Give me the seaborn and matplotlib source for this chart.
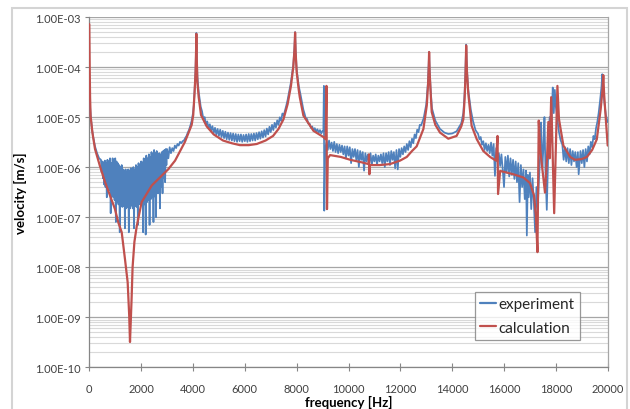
import numpy as np
import pandas as pd
import matplotlib
matplotlib.use("Agg")
import matplotlib.pyplot as plt
from matplotlib.ticker import LogLocator, FuncFormatter, FixedLocator, NullFormatter
from matplotlib.patches import Rectangle
import seaborn as sns

# ---------------- data ----------------
series_names = ["experiment", "calculation"]
x_ticks = [0, 2000, 4000, 6000, 8000, 10000, 12000, 14000, 16000, 18000, 20000]
y_ticks = [1e-10, 1e-9, 1e-8, 1e-7, 1e-6, 1e-5, 1e-4, 1e-3]

calc_f = [0, 15, 30, 50, 120, 220, 410, 610, 800, 990, 1120, 1250, 1380, 1480, 1540,
          1570, 1630, 1670, 1740, 1830, 2020, 2410, 3040, 3310, 3690, 3950, 4010, 4060,
          4100, 4120, 4130, 4145, 4170, 4220, 4310, 4530, 4800, 5160, 5500, 5810, 6150,
          6460, 6800, 7090, 7300, 7490, 7650, 7780, 7870, 7915, 7940, 7960, 8000, 8080,
          8120, 8260, 8650, 9030, 9120, 9150, 9170, 9200, 9290, 9700, 10070, 10500,
          10770, 10790, 10805, 10830, 11200, 11600, 11990, 12250, 12450, 12630, 12890,
          13020, 13070, 13095, 13110, 13130, 13170, 13210, 13350, 13530, 13850, 14170,
          14350, 14430, 14480, 14515, 14540, 14570, 14620, 14750, 14950, 15200, 15460,
          15690, 15750, 15770, 15850, 16360, 16750, 17000, 17160, 17230, 17290, 17340,
          17400, 17450, 17520, 17580, 17660, 17710, 17760, 17820, 17935, 18060, 18120,
          18290, 18550, 18740, 19000, 19200, 19400, 19580, 19730, 19800, 19830, 19860,
          19900, 20000]
calc_v = [7.2e-4, 1e-4, 2.5e-5, 1.05e-5, 4.9e-6, 2.3e-6, 1.05e-6, 5e-7, 2.7e-7, 1.45e-7,
          7.8e-8, 5e-8, 1.4e-8, 5e-9, 1.07e-9, 3.2e-10, 2.2e-9, 1e-8, 3.2e-8, 6.6e-8,
          2e-7, 4.3e-7, 9e-7, 1.35e-6, 3.2e-6, 7e-6, 1.1e-5, 3e-5, 8e-5, 2.2e-4, 4.6e-4,
          1.6e-4, 5e-5, 2.5e-5, 1.1e-5, 6.5e-6, 4.5e-6, 3.4e-6, 3e-6, 2.75e-6, 2.75e-6,
          2.9e-6, 3.4e-6, 4.2e-6, 5.8e-6, 9e-6, 1.8e-5, 4.2e-5, 1e-4, 2.2e-4, 4.9e-4,
          2e-4, 8e-5, 3.5e-5, 2.5e-5, 1.07e-5, 5.3e-6, 4e-6, 3.6e-6, 4.2e-5, 1.45e-7,
          1.5e-6, 1.74e-6, 1.6e-6, 1.4e-6, 1.25e-6, 1.15e-6, 1.8e-6, 7.2e-7, 1.1e-6,
          1.1e-6, 1.15e-6, 1.35e-6, 1.6e-6, 2.1e-6, 2.6e-6, 5.8e-6, 1.7e-5, 4.5e-5,
          1e-4, 2e-4, 8e-5, 3e-5, 1.26e-5, 7e-6, 4.9e-6, 3.7e-6, 4.2e-6, 6.5e-6, 9e-6,
          2.3e-5, 7e-5, 2.7e-4, 8e-5, 3e-5, 6.7e-6, 3.6e-6, 2.1e-6, 1.6e-6, 1.35e-6,
          4.2e-6, 2.9e-7, 8.4e-7, 7.2e-7, 6.2e-7, 4.8e-7, 2.7e-7, 1.07e-7, 2e-8, 8.5e-6,
          2.2e-6, 1.24e-6, 6e-7, 3.1e-7, 1.5e-6, 8e-6, 1.5e-6, 2.5e-5, 1.2e-7, 4.2e-5,
          9.1e-6, 2.7e-6, 1.6e-6, 1.4e-6, 1.45e-6, 1.6e-6, 2.2e-6, 3.6e-6, 1.45e-5,
          3.5e-5, 6.9e-5, 3e-5, 1.45e-5, 2.7e-6]

# experiment: low-frequency start
exp_f0 = [0, 30, 60, 100, 150, 220, 300, 380]
exp_v0 = [2.6e-5, 1.6e-5, 1e-5, 6e-6, 4e-6, 2.6e-6, 1.9e-6, 1.5e-6]

# experiment: noisy band 450..3000 Hz (25 Hz bins)
exp_f1 = list(range(450, 3025, 25))
exp_v1 = [1.4e-6, 8e-7, 1.3e-6, 6e-7, 1.25e-6, 4.5e-7, 1.35e-6, 4e-7, 1.2e-6, 2.5e-7,
          1.4e-6, 4e-7, 1.3e-6, 3.5e-7, 1.5e-6, 1.2e-7, 1.2e-6, 3e-7, 1.5e-6, 2.5e-7,
          1.4e-6, 2.2e-7, 1.5e-6, 8e-8, 1.3e-6, 2e-7, 1.2e-6, 1.8e-7, 1.1e-6, 5e-8,
          1.0e-6, 1.8e-7, 1.1e-6, 1.6e-7, 9e-7, 1.7e-7, 8.5e-7, 6e-8, 9e-7, 1.5e-7,
          8e-7, 1.6e-7, 9e-7, 5e-8, 8.5e-7, 1.5e-7, 9.5e-7, 1.7e-7, 8e-7, 1.5e-7,
          1e-6, 6e-8, 9e-7, 1.7e-7, 1.1e-6, 1.6e-7, 1.0e-6, 7e-8, 1.2e-6, 1.8e-7,
          1.1e-6, 1.8e-7, 1.3e-6, 2e-7, 1.25e-6, 5e-8, 1.5e-6, 1.8e-7, 1.4e-6, 4.5e-8,
          1.7e-6, 2e-7, 1.5e-6, 2.2e-7, 1.8e-6, 7e-8, 1.6e-6, 2.3e-7, 2e-6, 2.5e-7,
          1.8e-6, 8e-8, 2.2e-6, 2.6e-7, 1.9e-6, 1e-7, 2.1e-6, 3e-7, 1.8e-6, 3e-7,
          1.9e-6, 1.5e-7, 1.8e-6, 4e-7, 2e-6, 3e-7, 2.1e-6, 6e-7, 2.2e-6, 5e-7,
          2.3e-6, 1.1e-6, 2.3e-6]

# experiment: rise to the 4.1 kHz resonance
exp_f2 = [3050, 3100, 3150, 3200, 3250, 3300, 3350, 3400, 3450, 3500, 3550, 3600, 3650,
          3700, 3750, 3800, 3850, 3900, 3950, 4000, 4030, 4060, 4100, 4120, 4130, 4145,
          4170, 4220, 4300]
exp_v2 = [1.5e-6, 2.5e-6, 1.9e-6, 2.4e-6, 2.1e-6, 2.7e-6, 2.4e-6, 2.9e-6, 2.7e-6, 3.2e-6,
          3.0e-6, 3.3e-6, 3.4e-6, 3.8e-6, 4.2e-6, 4.9e-6, 5.6e-6, 6.8e-6, 8.5e-6, 1.2e-5,
          1.7e-5, 3.2e-5, 9e-5, 2.5e-4, 4.8e-4, 1.8e-4, 6.5e-5, 3.2e-5, 1.6e-5]

# experiment: band 4350..7500 Hz (50 Hz bins)
exp_f3 = list(range(4350, 7550, 50))
exp_v3 = [1.3e-5, 9.2e-6, 1.0e-5, 7.1e-6, 8.2e-6, 6.0e-6, 7.2e-6, 5.4e-6, 6.6e-6, 4.8e-6,
          6.1e-6, 4.5e-6, 5.8e-6, 4.2e-6, 5.6e-6, 4.0e-6, 5.3e-6, 3.8e-6, 5.1e-6, 3.6e-6,
          4.9e-6, 3.5e-6, 4.8e-6, 3.4e-6, 4.7e-6, 3.3e-6, 4.6e-6, 3.2e-6, 4.5e-6, 3.3e-6,
          4.5e-6, 3.2e-6, 4.4e-6, 3.3e-6, 4.5e-6, 3.2e-6, 4.6e-6, 3.3e-6, 4.6e-6, 3.4e-6,
          4.7e-6, 3.4e-6, 4.8e-6, 3.6e-6, 5.0e-6, 3.7e-6, 5.2e-6, 3.9e-6, 5.5e-6, 4.1e-6,
          5.9e-6, 4.5e-6, 6.4e-6, 5.0e-6, 7.0e-6, 5.5e-6, 7.7e-6, 6.2e-6, 8.6e-6, 7.0e-6,
          9.9e-6, 8.4e-6, 1.18e-5, 1.08e-5]

# experiment: 7.9 kHz resonance and the 9.05 kHz spike
exp_f4 = [7600, 7650, 7780, 7870, 7915, 7940, 7960, 8000, 8080, 8150, 8260, 8300, 8350,
          8400, 8450, 8500, 8550, 8600, 8650, 8700, 8750, 8800, 8850, 8900, 8950, 9000,
          9030, 9050, 9065]
exp_v4 = [1.7e-5, 2.2e-5, 5e-5, 1.1e-4, 2.4e-4, 5e-4, 2.2e-4, 9e-5, 4.2e-5, 2.8e-5,
          1.4e-5, 1.2e-5, 9.5e-6, 9.2e-6, 7.4e-6, 7.4e-6, 6.1e-6, 6.5e-6, 5.5e-6, 6.0e-6,
          5.1e-6, 5.7e-6, 4.9e-6, 5.5e-6, 4.7e-6, 5.3e-6, 5.2e-6, 4.2e-5, 1.35e-7]

# experiment: band 9100..12800 Hz (50 Hz bins)
exp_f5 = list(range(9100, 12850, 50))
exp_v5 = [2.2e-6, 3.3e-6, 2.2e-6, 3.4e-6, 2.3e-6, 3.1e-6, 2.1e-6, 3.2e-6, 2.0e-6, 2.9e-6,
          1.9e-6, 2.8e-6, 2.0e-6, 2.7e-6, 1.8e-6, 2.6e-6, 1.5e-6, 2.6e-6, 1.7e-6, 2.5e-6,
          1.2e-6, 2.3e-6, 1.6e-6, 2.3e-6, 1.4e-6, 2.2e-6, 1.0e-6, 2.1e-6, 1.4e-6, 2.0e-6,
          8.5e-7, 1.9e-6, 1.3e-6, 1.8e-6, 1.2e-6, 1.9e-6, 1.1e-6, 1.7e-6, 1.3e-6, 1.8e-6,
          1.1e-6, 1.7e-6, 1.3e-6, 1.8e-6, 1.2e-6, 1.9e-6, 1.0e-6, 1.9e-6, 1.3e-6, 2.0e-6,
          1.1e-6, 2.1e-6, 1.4e-6, 2.0e-6, 9.5e-7, 2.2e-6, 9e-7, 2.3e-6, 1.6e-6, 2.4e-6,
          1.8e-6, 2.6e-6, 2.0e-6, 2.9e-6, 2.2e-6, 3.3e-6, 2.5e-6, 3.7e-6, 3.0e-6, 4.5e-6,
          3.8e-6, 5.6e-6, 5.0e-6, 7.0e-6, 6.8e-6]

# experiment: 13.1 and 14.5 kHz resonances
exp_f6 = [12900, 13000, 13060, 13090, 13110, 13130, 13170, 13220, 13350, 13530, 13700,
          13850, 14000, 14170, 14350, 14430, 14480, 14510, 14540, 14570, 14620, 14720,
          14800, 14900]
exp_v6 = [9.5e-6, 1.8e-5, 4.5e-5, 1e-4, 2e-4, 9e-5, 3.5e-5, 1.5e-5, 8.5e-6, 5.8e-6,
          4.9e-6, 4.6e-6, 4.7e-6, 5.2e-6, 7.5e-6, 1.2e-5, 3e-5, 8e-5, 2.8e-4, 9e-5,
          3.5e-5, 1.4e-5, 8.5e-6, 5.5e-6]

# experiment: noisy decay 15..18.2 kHz
exp_f7 = [15000, 15050, 15100, 15150, 15200, 15250, 15300, 15350, 15400, 15450, 15500,
          15550, 15600, 15650, 15700, 15750, 15800, 15850, 15900, 15950, 16000, 16050,
          16100, 16150, 16200, 16250, 16300, 16350, 16400, 16450, 16500, 16550, 16600,
          16650, 16700, 16750, 16800, 16850, 16880, 16920, 16950, 17000, 17050, 17100,
          17150, 17200, 17250, 17300, 17350, 17400, 17430, 17480, 17520, 17560, 17600,
          17650, 17700, 17760, 17800, 17850, 17880, 17920, 17960, 18000, 18060, 18120,
          18180]
exp_v7 = [4.6e-6, 3.6e-6, 4.0e-6, 2.8e-6, 3.3e-6, 2.2e-6, 3.0e-6, 2.1e-6, 2.8e-6, 1.9e-6,
          3.1e-6, 1.7e-6, 2.9e-6, 6.7e-7, 2.4e-6, 1.3e-6, 1.9e-6, 1.05e-6, 1.8e-6, 9e-7,
          4e-7, 1.6e-6, 7.8e-7, 1.7e-6, 6.5e-7, 1.5e-6, 7e-7, 1.4e-6, 5.8e-7, 1.3e-6,
          5e-7, 1.2e-6, 2e-7, 1.1e-6, 4e-7, 9e-7, 2.3e-7, 8.5e-7, 4.3e-8, 7e-7,
          2.5e-7, 7.8e-7, 1.45e-7, 6e-7, 2e-7, 5e-8, 4e-7, 1.5e-7, 6e-7, 2e-6,
          7.8e-6, 1e-6, 2.5e-6, 1e-5, 8e-7, 1.4e-7, 1.5e-6, 1e-5, 3e-6, 1.5e-5,
          3.9e-5, 1.2e-5, 3.5e-5, 1.6e-5, 9e-6, 5e-6, 3.5e-6]

# experiment: band 18.25..20 kHz with the 19.8 kHz resonance
exp_f8 = [18250, 18300, 18350, 18400, 18450, 18500, 18550, 18600, 18650, 18700, 18750,
          18800, 18850, 18880, 18950, 19000, 19050, 19100, 19150, 19200, 19250, 19300,
          19350, 19400, 19450, 19500, 19550, 19600, 19650, 19700, 19760, 19790, 19820,
          19870, 19930, 20000]
exp_v8 = [2.8e-6, 1.4e-6, 2.5e-6, 1.3e-6, 2.4e-6, 1.2e-6, 2.3e-6, 1.1e-6, 2.1e-6, 1.3e-6,
          2.0e-6, 1.0e-6, 2.0e-6, 7.2e-7, 2.1e-6, 1.2e-6, 2.2e-6, 1.0e-6, 2.3e-6, 1.3e-6,
          2.6e-6, 1.8e-6, 3.2e-6, 2.5e-6, 4.2e-6, 3.6e-6, 6e-6, 8e-6, 1.2e-5, 2e-5,
          4e-5, 7.2e-5, 4e-5, 2e-5, 1.1e-5, 7.9e-6]

# ---------------- assemble ----------------
exp_f = exp_f0 + exp_f1 + exp_f2 + exp_f3 + exp_f4 + exp_f5 + exp_f6 + exp_f7 + exp_f8
exp_v = exp_v0 + exp_v1 + exp_v2 + exp_v3 + exp_v4 + exp_v5 + exp_v6 + exp_v7 + exp_v8

df = pd.concat([
    pd.DataFrame({"frequency": exp_f, "velocity": exp_v, "series": series_names[0]}),
    pd.DataFrame({"frequency": calc_f, "velocity": calc_v, "series": series_names[1]}),
], ignore_index=True)

# ---------------- style ----------------
sns.set_theme(style="white")
plt.rcParams["font.family"] = ["Lato", "DejaVu Sans"]
plt.rcParams["path.simplify"] = False

W, H = 630, 410
fig = plt.figure(figsize=(W / 100, H / 100), dpi=100)
ax = fig.add_axes([89.3 / W, 1 - 368.3 / H, (607.7 - 89.3) / W, (368.3 - 18) / H])

palette = {"experiment": "#4F81BD", "calculation": "#C0504D"}
sns.lineplot(data=df[df.series == "experiment"], x="frequency", y="velocity",
             color=palette["experiment"], lw=1.25, estimator=None, sort=True,
             ax=ax, label="experiment", zorder=3)
sns.lineplot(data=df[df.series == "calculation"], x="frequency", y="velocity",
             color=palette["calculation"], lw=1.6, estimator=None, sort=True,
             ax=ax, label="calculation", zorder=4)

ax.set_yscale("log")
ax.set_ylim(1e-10, 1e-3)
ax.set_xlim(0, 20000)

ax.yaxis.set_major_locator(FixedLocator(y_ticks))
ax.yaxis.set_major_formatter(FuncFormatter(lambda v, p: "{:.2E}".format(v)))
ax.yaxis.set_minor_locator(LogLocator(base=10, subs=np.arange(2, 10)))
ax.yaxis.set_minor_formatter(NullFormatter())
ax.xaxis.set_major_locator(FixedLocator(x_ticks))
ax.xaxis.set_major_formatter(FuncFormatter(lambda v, p: "{:d}".format(int(v))))

ax.grid(True, which="major", axis="y", color="#A6A6A6", lw=0.9)
ax.grid(True, which="minor", axis="y", color="#D9D9D9", lw=0.8)
ax.grid(False, axis="x")
ax.set_axisbelow(True)

for s in ["left", "bottom"]:
    ax.spines[s].set_color("#868686")
    ax.spines[s].set_linewidth(0.9)
ax.spines["top"].set_visible(False)
ax.spines["right"].set_color("#A6A6A6")
ax.spines["right"].set_linewidth(0.9)

ax.tick_params(axis="y", which="major", direction="out", length=3.2, width=0.8,
               color="#868686", labelsize=8, labelcolor="#404040", pad=3, left=True)
ax.tick_params(axis="y", which="minor", length=0, left=False)
ax.tick_params(axis="x", which="major", direction="inout", length=6, width=0.8,
               color="#868686", labelsize=8, labelcolor="#404040", pad=8, bottom=True)

ax.set_xlabel("frequency [Hz]", fontsize=9.5, fontweight="bold", color="#000000", labelpad=1)
ax.set_ylabel("velocity [m/s]", fontsize=9.5, fontweight="bold", color="#000000", labelpad=6)

leg = ax.legend(loc="upper left", bbox_to_anchor=(0.744, 0.215), frameon=True,
                fancybox=False, fontsize=11, handlelength=1.05, handletextpad=0.12,
                borderpad=0.35, labelspacing=0.62, borderaxespad=0)
leg.get_frame().set_edgecolor("#7F7F7F")
leg.get_frame().set_linewidth(0.9)
for line in leg.get_lines():
    line.set_linewidth(1.6)

# outer chart-area border
fig.patches.append(Rectangle((12 / W, -0.01), (627 - 12) / W, (H - 9) / H + 0.01,
                             transform=fig.transFigure, fill=False,
                             edgecolor="#D4D4D4", lw=1.5))

fig.savefig("out.png", dpi=100)
